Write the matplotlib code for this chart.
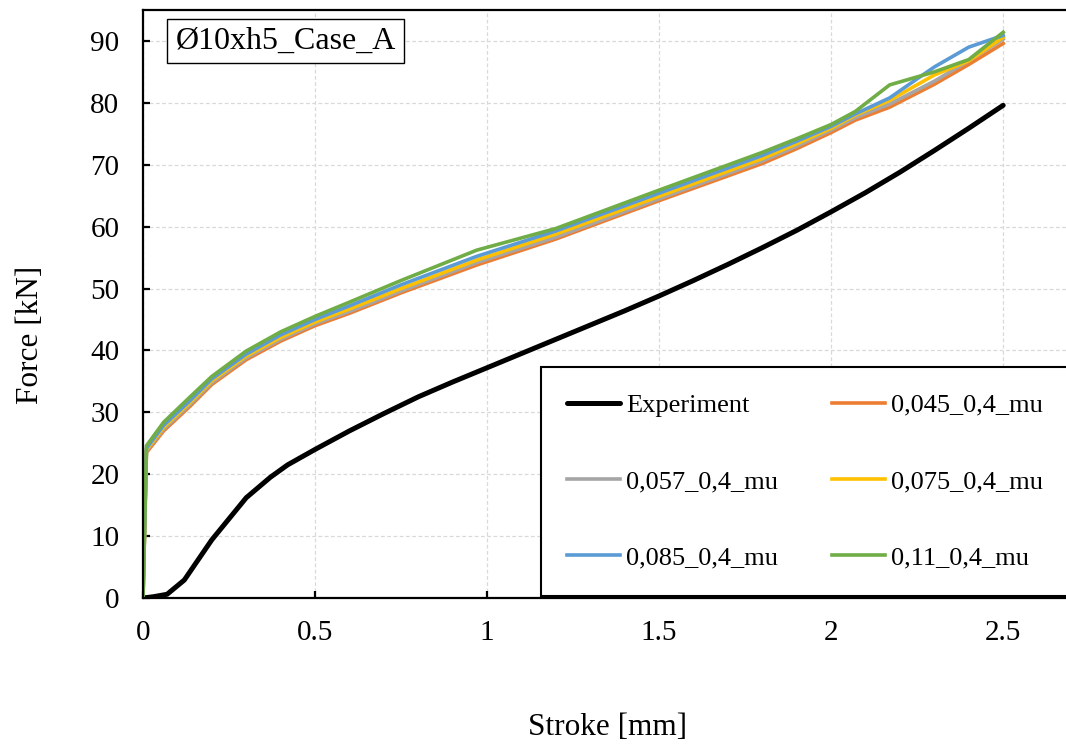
import matplotlib
matplotlib.use("Agg")
import matplotlib.pyplot as plt
from matplotlib.patches import Rectangle

plt.rcParams['font.family'] = ['Liberation Serif', 'DejaVu Serif']

# Experiment curve
exp_x = [0, 0.03, 0.07, 0.12, 0.2, 0.3, 0.37, 0.42, 0.5, 0.6, 0.7, 0.8, 0.9, 1.0, 1.1, 1.2,
         1.3, 1.4, 1.5, 1.6, 1.7, 1.8, 1.9, 2.0, 2.1, 2.2, 2.3, 2.4, 2.5]
exp_y = [0, 0.2, 0.6, 2.9, 9.4, 16.2, 19.5, 21.5, 24.0, 27.0, 29.8, 32.5, 34.9, 37.2, 39.5, 41.8,
         44.1, 46.4, 48.8, 51.3, 53.9, 56.6, 59.4, 62.4, 65.5, 68.8, 72.3, 75.9, 79.6]

# Simulation curves (shared stroke values)
sim_x = [0, 0.01, 0.06, 0.137, 0.2, 0.3, 0.4, 0.5, 0.6, 0.75, 0.97, 1.2, 1.5, 1.8, 1.9, 2.0,
         2.07, 2.17, 2.3, 2.4, 2.5]
y_045 = [0, 23.5, 27.0, 31.0, 34.5, 38.5, 41.5, 44.0, 46.0, 49.3, 53.8, 58.0, 64.2, 70.2, 72.6,
         75.2, 77.2, 79.3, 83.0, 86.2, 89.6]
y_057 = [0, 23.8, 27.3, 31.3, 34.8, 38.8, 41.8, 44.3, 46.3, 49.6, 54.2, 58.3, 64.5, 70.6, 73.0,
         75.6, 77.6, 79.8, 83.5, 86.8, 90.3]
y_075 = [0, 24.0, 27.6, 31.6, 35.1, 39.1, 42.1, 44.6, 46.7, 50.0, 54.6, 58.8, 64.9, 71.0, 73.4,
         75.9, 78.0, 80.4, 84.5, 86.8, 90.6]
y_085 = [0, 24.2, 27.9, 31.9, 35.4, 39.4, 42.5, 45.0, 47.2, 50.6, 55.2, 59.3, 65.4, 71.5, 73.8,
         76.2, 78.2, 80.8, 85.8, 89.0, 90.9]
y_11 = [0, 24.6, 28.4, 32.5, 35.8, 39.9, 43.0, 45.5, 47.8, 51.3, 56.2, 59.7, 65.9, 72.0, 74.2,
        76.5, 78.6, 82.9, 85.0, 87.0, 91.4]

sim_labels = ['0,045_0,4_mu', '0,057_0,4_mu', '0,075_0,4_mu', '0,085_0,4_mu', '0,11_0,4_mu']
sim_series = [y_045, y_057, y_075, y_085, y_11]
sim_colors = ['#ED7D31', '#A5A5A5', '#FFC000', '#5B9BD5', '#70AD47']

fig = plt.figure(figsize=(10.66, 7.44), dpi=100)
ax = fig.add_axes([143 / 1066, 146 / 744, 929 / 1066, 588 / 744])

lines = []
l, = ax.plot(exp_x, exp_y, color='black', lw=3.6, label='Experiment', solid_capstyle='round')
lines.append(l)
for ys, lab, c in zip(sim_series, sim_labels, sim_colors):
    l, = ax.plot(sim_x, ys, color=c, lw=2.6, label=lab)
    lines.append(l)

ax.set_xlim(0, 2.7)
ax.set_ylim(0, 95)
ax.set_xticks([0, 0.5, 1, 1.5, 2, 2.5])
ax.set_xticklabels(['0', '0.5', '1', '1.5', '2', '2.5'])
ax.set_yticks(range(0, 100, 10))
ax.grid(True, color='#d9d9d9', linestyle=(0, (3, 2)), linewidth=0.9)
ax.set_axisbelow(True)

for s in ax.spines.values():
    s.set_linewidth(1.6)
    s.set_color('black')

ax.tick_params(axis='both', direction='in', length=5, width=1.6, labelsize=21)
ax.tick_params(axis='y', pad=17)
ax.tick_params(axis='x', pad=16)

ax.set_xlabel('Stroke [mm]', fontsize=22.5, labelpad=48)
ax.set_ylabel('Force [kN]', fontsize=22.5)
ax.yaxis.set_label_coords(-0.106, 0.447)

# case label in a square box
ax.add_patch(Rectangle((0.0258, 0.910), 0.255, 0.0748, transform=ax.transAxes,
                       fc='white', ec='black', lw=1.0, zorder=5))
ax.text(0.0258 + 0.1285, 0.910 + 0.0374, 'Ø10xh5_Case_A', transform=ax.transAxes,
        fontsize=23, ha='center', va='center', zorder=6)

# legend filled row by row, like the original
order = [0, 2, 4, 1, 3, 5]
leg = ax.legend(handles=[lines[i] for i in order], ncol=2, loc='upper left',
                bbox_to_anchor=(0.4284, 0.393), borderaxespad=0, fontsize=19,
                frameon=True, fancybox=False, framealpha=1, edgecolor='black',
                borderpad=1.0, labelspacing=2.0, handlelength=2.0,
                handletextpad=0.23, columnspacing=2.05)
leg.get_frame().set_linewidth(1.5)

fig.savefig('out.png', dpi=100)
